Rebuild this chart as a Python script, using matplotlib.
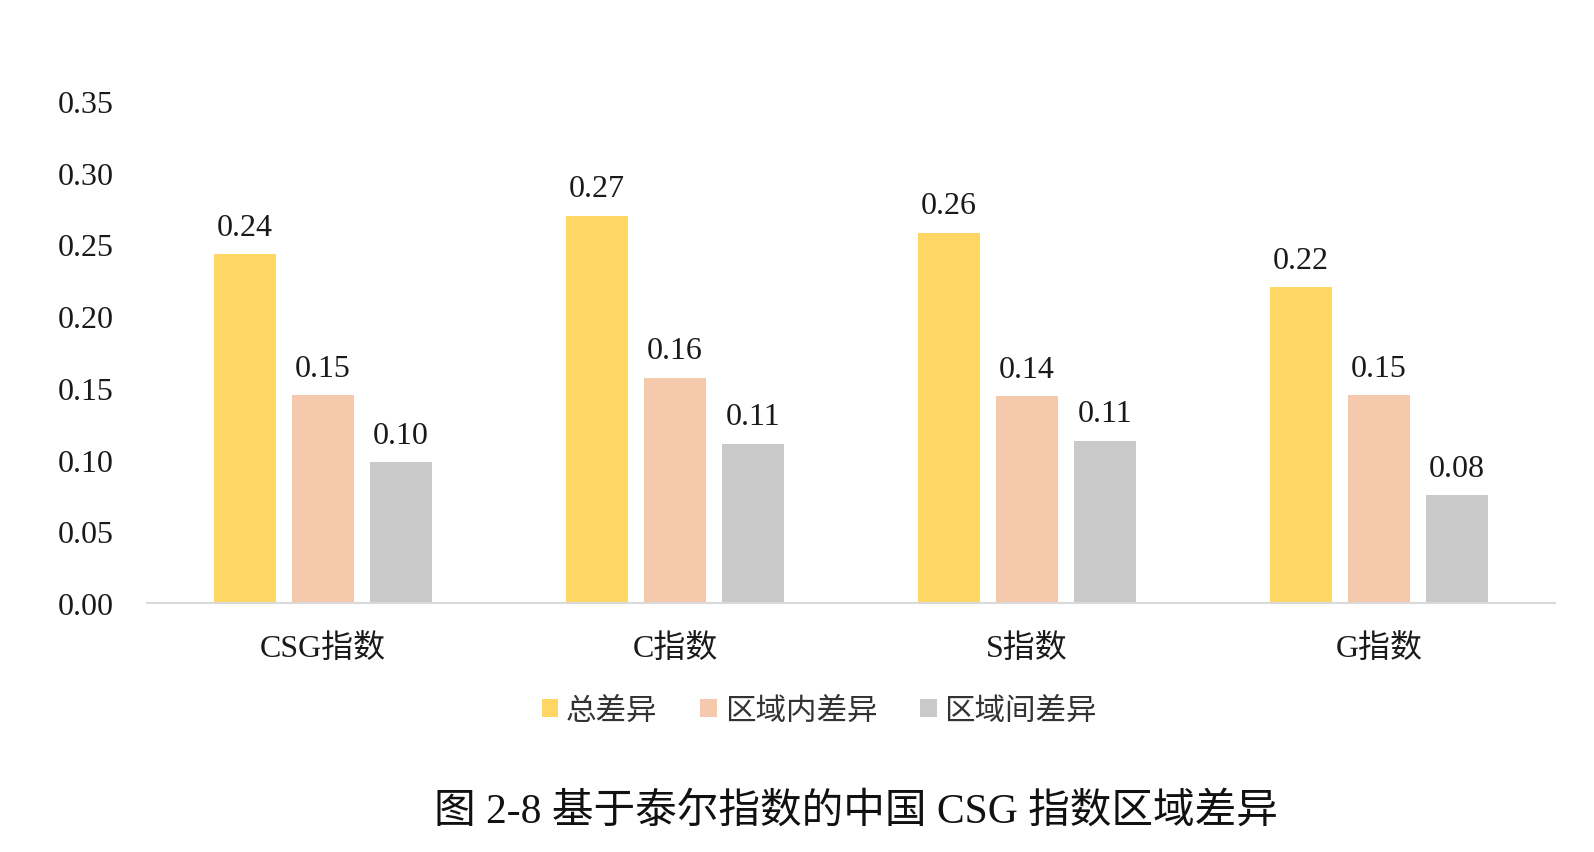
import matplotlib
matplotlib.use("Agg")
import matplotlib.pyplot as plt
import numpy as np

categories = ["CSG指数", "C指数", "S指数", "G指数"]
series_names = ["总差异", "区域内差异", "区域间差异"]
total_diff = [0.243, 0.270, 0.258, 0.220]
intra_diff = [0.145, 0.157, 0.144, 0.145]
inter_diff = [0.098, 0.111, 0.113, 0.075]
total_labels = ["0.24", "0.27", "0.26", "0.22"]
intra_labels = ["0.15", "0.16", "0.14", "0.15"]
inter_labels = ["0.10", "0.11", "0.11", "0.08"]
yticks = [0.00, 0.05, 0.10, 0.15, 0.20, 0.25, 0.30, 0.35]
title = "图 2-8 基于泰尔指数的中国 CSG 指数区域差异"

colors = ["#FDD663", "#F5C9AB", "#C9C9C9"]
fam = ["Liberation Serif", "Noto Sans CJK SC"]
plt.rcParams["font.family"] = fam

fig = plt.figure(figsize=(15.94, 8.53), dpi=100)
ax = fig.add_axes([0.0922, 0.2919, 0.8833, 0.5885])

x = np.arange(len(categories))
w = 0.175
off = 0.222
data = [total_diff, intra_diff, inter_diff]
labels = [total_labels, intra_labels, inter_labels]
for i, (vals, labs, c, name) in enumerate(zip(data, labels, colors, series_names)):
    pos = x + (i - 1) * off
    bars = ax.bar(pos, vals, width=w, color=c, label=name, zorder=2)
    for b, t in zip(bars, labs):
        ax.annotate(t, (b.get_x() + b.get_width() / 2, b.get_height()),
                    xytext=(0, 9), textcoords="offset points",
                    ha="center", va="bottom", fontsize=23, color="#1a1a1a",
                    family="Liberation Serif")

ax.set_xlim(-0.5, 3.5)
ax.set_ylim(0, 0.35)
ax.set_yticks(yticks)
ax.set_yticklabels([f"{v:.2f}" for v in yticks], fontsize=23, family="Liberation Serif", color="#1a1a1a")
ax.set_xticks(x)
ax.set_xticklabels(categories, fontsize=23, color="#1a1a1a")
ax.tick_params(axis="both", length=0)
ax.tick_params(axis="y", pad=24)
ax.tick_params(axis="x", pad=22)
for s in ["top", "right", "left"]:
    ax.spines[s].set_visible(False)
ax.spines["bottom"].set_color("#D9D9D9")
ax.spines["bottom"].set_linewidth(1.5)

leg = fig.legend(loc="center", bbox_to_anchor=(0.514, 0.165), ncol=3, frameon=False,
                 fontsize=22, handlelength=0.55, handleheight=0.55, handletextpad=0.25,
                 columnspacing=1.4)
for t in leg.get_texts():
    t.set_color("#333333")

fig.text(0.537, 0.048, title, ha="center", va="center", fontsize=30, color="#111111",
         family=["Liberation Serif", "Noto Sans CJK SC"])

fig.savefig("out.png", dpi=100, facecolor="white")
